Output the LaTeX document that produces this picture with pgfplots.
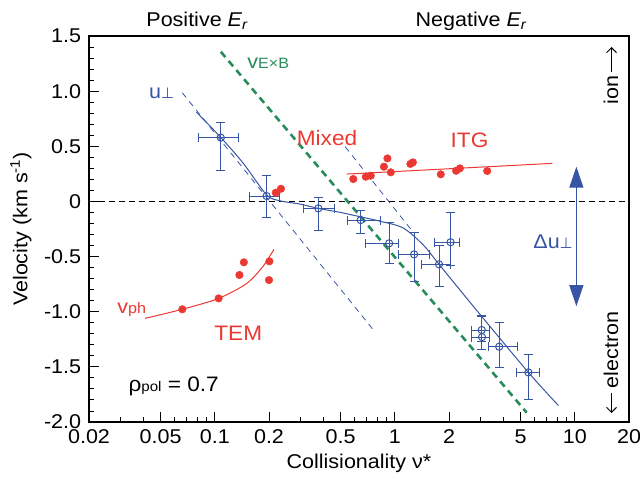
\documentclass[border=0pt]{standalone}
\usepackage{fontspec}
\setmainfont[FakeStretch=1.08]{Liberation Sans}
\newfontfamily\dejavu{DejaVu Sans}
\usepackage{pgfplots}
\pgfplotsset{compat=1.18}
\usetikzlibrary{arrows.meta}
\definecolor{cblue}{RGB}{55,85,165}
\definecolor{cred}{RGB}{236,56,50}
\definecolor{cgreen}{RGB}{40,140,90}
\newcommand{\fs}[1]{\fontsize{#1}{#1}\selectfont}
\begin{document}
\fs{20}%
\begin{tikzpicture}
\begin{axis}[at={(89bp,57bp)}, anchor=south west, scale only axis,
  width=540bp, height=386bp,
  xmode=log, xmin=0.02, xmax=20, ymin=-2, ymax=1.5,
  clip=false,
  axis line style={line width=1.3pt, black},
  tick pos=left, tick align=inside,
  major tick length=10bp, minor tick length=5bp,
  every tick/.style={line width=0.9pt, black},
  xtick={0.02,0.05,0.1,0.2,0.5,1,2,5,10,20},
  xticklabels={0.02,0.05,0.1,0.2,0.5,1,2,5,10,20},
  minor xtick={0.03,0.04,0.06,0.07,0.08,0.09,0.3,0.4,0.6,0.7,0.8,0.9,3,4,6,7,8,9},
  ytick={-2,-1.5,-1,-0.5,0,0.5,1,1.5},
  yticklabels={-2.0,-1.5,-1.0,-0.5,0,0.5,1.0,1.5},
  minor y tick num=4,
  tick label style={font=\fs{20}},
  xticklabel style={yshift=-1bp},
  yticklabel style={xshift=-1bp},
  xlabel={Collisionality ν*},
  ylabel={Velocity (km s\textsuperscript{-1})},
  label style={font=\fs{20}},
  xlabel style={yshift=3bp},
  ylabel style={yshift=-1bp},
]
% zero line
\addplot[black, line width=1pt, dash pattern=on 6bp off 4bp] coordinates {(0.02,0) (20,0)};
% green ExB
\addplot[cgreen, line width=2.6pt, dash pattern=on 7bp off 5bp] coordinates {(0.108,1.357) (5.4,-1.915)};
% thin blue dashed lines
\addplot[cblue, line width=0.8pt, dash pattern=on 6bp off 5bp] coordinates {(0.066,0.985) (0.76,-1.165)};
\addplot[cblue, line width=0.8pt, dash pattern=on 6bp off 5bp] coordinates {(0.53,0.496) (1.25,-0.268)};
% blue fit curve
\addplot[cblue, line width=1pt, smooth] coordinates {
(0.079,0.81) (0.108,0.58) (0.144,0.345) (0.194,0.06) (0.23,0.006) (0.297,-0.024)
(0.376,-0.063) (0.5,-0.1) (0.646,-0.14) (0.83,-0.18) (1.11,-0.24) (1.44,-0.395)
(1.76,-0.57) (2.84,-0.985) (5.52,-1.55) (8.1,-1.85)};
% red ITG line
\addplot[cred, line width=1pt] coordinates {(0.54,0.248) (7.5,0.345)};
% red vph curve
\addplot[cred, line width=1pt, smooth] coordinates {
(0.041,-1.06) (0.066,-0.978) (0.105,-0.879) (0.15,-0.745) (0.185,-0.59) (0.213,-0.434)};
% red dots
\addplot[only marks, mark=*, mark size=3.8bp, cred, mark options={draw=cred, fill=cred}] coordinates {
(0.588,0.203) (0.69,0.224) (0.735,0.233) (0.91,0.39) (0.87,0.315) (0.95,0.264)
(1.22,0.34) (1.26,0.354) (1.80,0.246) (2.19,0.278) (2.30,0.30) (3.26,0.276)
(0.218,0.079) (0.233,0.115)
(0.066,-0.978) (0.105,-0.879) (0.137,-0.667) (0.145,-0.552) (0.201,-0.543) (0.2,-0.713)};
% blue data with error bars
\addplot[cblue, only marks, mark=o, mark size=3.6bp, mark options={line width=1pt},
  error bars/.cd, x dir=both, x explicit, y dir=both, y explicit,
  error bar style={line width=1pt, cblue}, error mark options={rotate=90, line width=1pt, mark size=4.5bp, cblue}]
 table[x=x, y=y, x error plus=xp, x error minus=xm, y error plus=yp, y error minus=ym] {
x y xp xm yp ym
0.108 0.578 0.027 0.027 0.142 0.298
0.194 0.049 0.036 0.039 0.19 0.193
0.376 -0.063 0.084 0.066 0.10 0.20
0.646 -0.169 0.19 0.10 0.09 0.12
0.93 -0.38 0.12 0.24 0.19 0.18
1.28 -0.48 0.27 0.23 0.20 0.25
2.04 -0.37 0.26 0.38 0.27 0.21
1.76 -0.57 0.27 0.36 0.17 0.20
3.04 -1.166 0.31 0.38 0.13 0.10
3.05 -1.23 0.31 0.38 0.19 0.11
3.8 -1.317 1.0 0.5 0.217 0.193
5.52 -1.55 0.88 0.75 0.16 0.25
};
% double arrow
\draw[cblue, line width=1.1pt, {Triangle[width=14bp,length=21bp]}-{Triangle[width=14bp,length=21bp]}]
  (axis cs:10.2,0.315) -- (axis cs:10.2,-0.95);
% labels inside
\node[cblue, font=\fs{20}] at (axis cs:0.0506,0.98) {u{\dejavu\fs{15}⊥}};
\node[cgreen, font=\fs{20}] at (axis cs:0.198,1.25) {v{\fs{15}E×B}};
\node[cred, font=\fs{21}] at (axis cs:0.42,0.572) {Mixed};
\node[cred, font=\fs{21}] at (axis cs:2.6,0.557) {ITG};
\node[cred, font=\fs{21}] at (axis cs:0.135,-1.196) {TEM};
\node[cred, font=\fs{20}] at (axis cs:0.0345,-0.978) {v{\fs{15}ph}};
\node[black, font=\fs{21}, anchor=west] at (axis cs:0.0304,-1.68) {ρ{\fs{14}pol} = 0.7};
\node[cblue, font=\fs{20}] at (axis cs:7.57,-0.365) {Δu{\dejavu\fs{15}⊥}};
\end{axis}
% outside labels
\node[font=\fs{20}] at (197bp,458bp) {Positive \textit{E\textsubscript{r}}};
\node[font=\fs{20}] at (471bp,458bp) {Negative \textit{E\textsubscript{r}}};
\node[font=\fs{20}, rotate=90] at (611bp,389bp) {ion};
\draw[line width=1pt, -{Straight Barb[length=5bp,width=10bp]}] (611.5bp,407bp) -- (611.5bp,432bp);
\node[font=\fs{20}, rotate=90] at (611bp,129bp) {electron};
\draw[line width=1pt, -{Straight Barb[length=5bp,width=10bp]}] (611.5bp,86bp) -- (611.5bp,66bp);
\pgfresetboundingbox
\useasboundingbox (0,0) rectangle (640bp,479bp);
\end{tikzpicture}
\end{document}
